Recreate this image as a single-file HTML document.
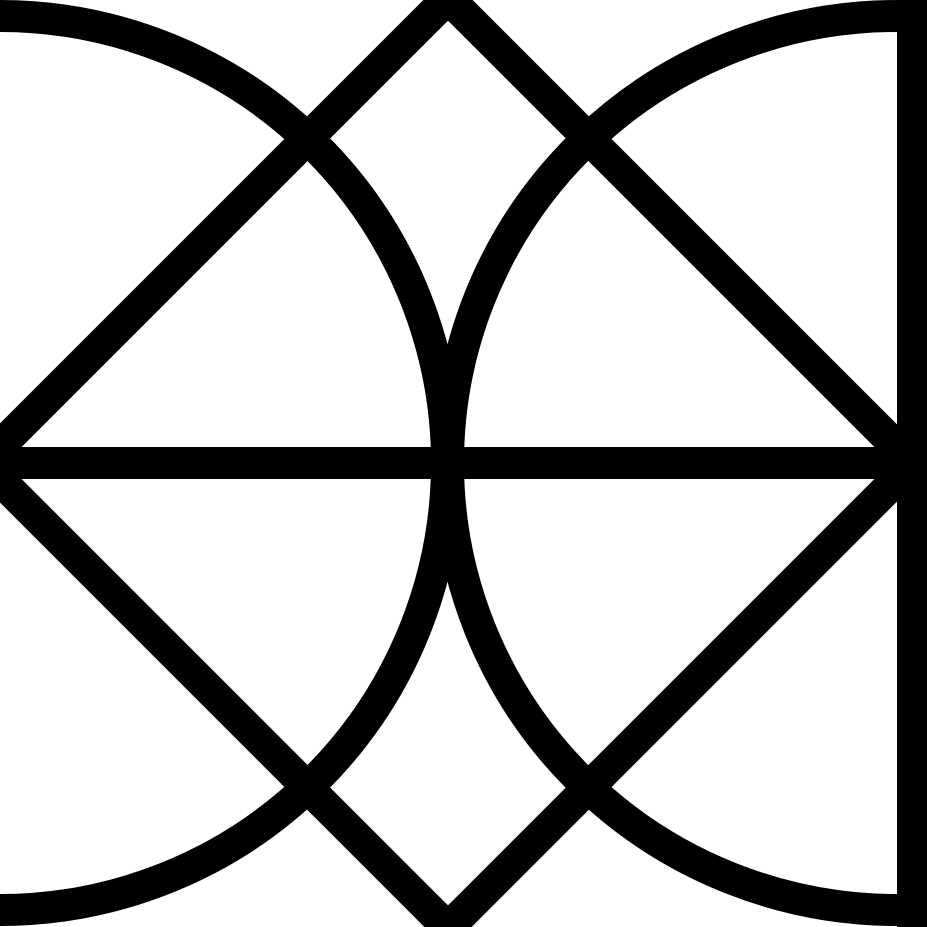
<!DOCTYPE html>
<html><head><meta charset="utf-8"><style>html,body{margin:0;padding:0;background:#fff}svg{display:block}</style></head>
<body>
<svg width="927" height="927" viewBox="0 0 927 927">
<rect x="0" y="0" width="927" height="927" fill="#fff"/>
<g fill="none" stroke="#000" stroke-width="32">
<path d="M0 16 A447 447 0 0 1 0 910"/>
<path d="M897 16 A449 447 0 0 0 897 910"/>
<path d="M448 -2 L913 463 L448 928 L-17 463 Z" stroke-linejoin="miter"/>
<line x1="0" y1="463" x2="900" y2="463"/>
</g>
<rect x="897" y="0" width="30" height="927" fill="#000"/>
</svg>
</body></html>
